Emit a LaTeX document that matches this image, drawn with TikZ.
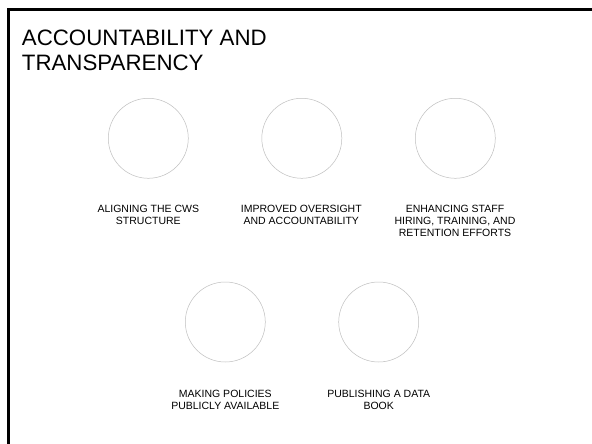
\documentclass[tikz,border=0pt]{standalone}
\usepackage{fontspec}
\setmainfont{Liberation Sans}
\begin{document}
\begin{tikzpicture}[x=1pt,y=-1pt,
  ring/.style={draw=black!25,line width=0.5pt,circle,minimum size=80pt,inner sep=0pt},
  lbl/.style={anchor=north,inner sep=0pt,align=center,font=\fontsize{10.5}{12.4}\selectfont},
  frame/.style={line width=3pt,draw=black}]
\useasboundingbox[fill=white] (0,0) rectangle (592,444);
\coordinate (fc) at (8.5,9.7);
\coordinate (fr) at (592,9.7);
\coordinate (fb) at (8.5,444);
\draw[frame] (fr) -- (fc) -- (fb);
\node[anchor=north west,inner sep=0pt,align=left,font=\fontsize{22.3}{25.7}\selectfont] (title) at (21.7,29.3) {ACCOUNTABILITY AND\\TRANSPARENCY};
\node[ring] (c1) at (148.3,138.3) {};
\node[ring] (c2) at (301.8,138.3) {};
\node[ring] (c3) at (455.3,138.3) {};
\node[ring] (c4) at (225.3,322) {};
\node[ring] (c5) at (378.7,322) {};
\node[lbl] (l1) at (148.3,204.6) {ALIGNING THE CWS\\STRUCTURE};
\node[lbl] (l2) at (301.3,204.6) {IMPROVED OVERSIGHT\\AND ACCOUNTABILITY};
\node[lbl] (l3) at (455,204.6) {ENHANCING STAFF\\HIRING, TRAINING, AND\\RETENTION EFFORTS};
\node[lbl] (l4) at (225.3,389.6) {MAKING POLICIES\\PUBLICLY AVAILABLE};
\node[lbl] (l5) at (378.7,389.6) {PUBLISHING A DATA\\BOOK};
\end{tikzpicture}
\end{document}
